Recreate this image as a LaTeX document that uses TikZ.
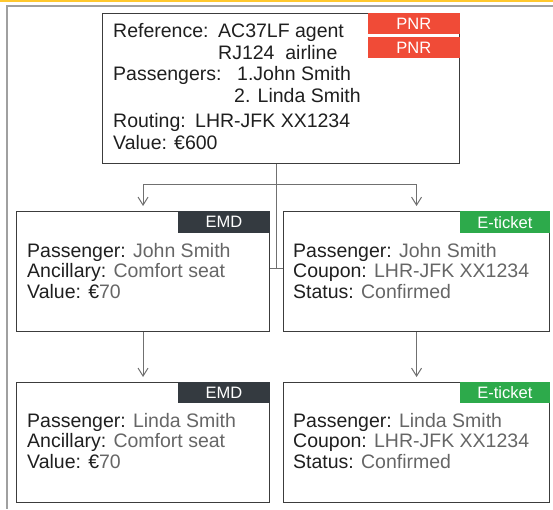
\documentclass[tikz,border=0pt]{standalone}
\usepackage{fontspec}
\setmainfont{Liberation Sans}
\usepackage{xcolor}
\usepackage{tikz}
\usetikzlibrary{arrows.meta,calc}
\definecolor{pnrred}{HTML}{F04B37}
\definecolor{emddark}{HTML}{343A40}
\definecolor{etkgreen}{HTML}{2DAA4B}
\definecolor{valgray}{HTML}{666666}
\definecolor{topbar}{HTML}{FFC82E}
\definecolor{framegray}{HTML}{A0A0A0}
\definecolor{cardline}{HTML}{3C3C3C}
\definecolor{linkgray}{HTML}{707070}
\tikzset{
  card/.style={draw=cardline,line width=1.1pt,anchor=north west,inner sep=0pt},
  tag/.style={anchor=north east,inner sep=0pt,minimum height=21pt,text=white,font=\fontsize{16.5}{17}\selectfont},
  txt/.style={anchor=base west,inner sep=0pt,font=\fontsize{19.5}{20}\selectfont,text=black!88},
  link/.style={draw=linkgray,line width=1pt},
  pointer/.style={-{Straight Barb[length=8pt,width=10pt]},shorten >=5pt}
}
\newcommand{\valtxt}[1]{\textcolor{valgray}{#1}}

\begin{document}
\begin{tikzpicture}[x=1pt,y=-1pt]
\useasboundingbox (0,0) rectangle (553,509);
% page frame
\fill[topbar] (0,0) rectangle (553,2.2);
\draw[framegray,line width=1.4pt] (553,6) -- (7,6) -- (7,509);

% PNR
\node[card,minimum width=357pt,minimum height=150pt] (pnr) at (102,13) {};
\node[tag,fill=pnrred,minimum width=92pt] (pnrA) at (pnr.north east) {PNR};
\node[tag,fill=pnrred,minimum width=92pt] (pnrB) at ($(pnr.north east)+(0,24)$) {PNR};
\node[txt] (pnr1) at (113,37) {\makebox[105pt][l]{Reference:}AC37LF agent};
\node[txt] (pnr2) at (113,59) {\hspace*{105pt}RJ124~~airline};
\node[txt] (pnr3) at (113,80) {\makebox[124pt][l]{Passengers:}1.John Smith};
\node[txt] (pnr4) at (113,102) {\hspace*{121pt}2. Linda Smith};
\node[txt] (pnr5) at (113,127) {\makebox[82pt][l]{Routing:}LHR-JFK XX1234};
\node[txt] (pnr6) at (113,149) {\makebox[61pt][l]{Value:}€600};

% first row
\node[card,minimum width=253pt,minimum height=120pt] (emdA) at (16,211) {};
\node[tag,fill=emddark,minimum width=92pt,minimum height=22pt] (emdAtag) at (emdA.north east) {EMD};
\node[txt] (emdA1) at ($(emdA.north west)+(11,46)$) {Passenger: \valtxt{John Smith}};
\node[txt] (emdA2) at ($(emdA.north west)+(11,66)$) {Ancillary: \valtxt{Comfort seat}};
\node[txt] (emdA3) at ($(emdA.north west)+(11,87)$) {Value: €\valtxt{70}};

\node[card,minimum width=266pt,minimum height=120pt] (etkA) at (283,211) {};
\node[tag,fill=etkgreen,minimum width=90pt,minimum height=22pt] (etkAtag) at (etkA.north east) {E-ticket};
\node[txt] (etkA1) at ($(etkA.north west)+(10,46)$) {Passenger: \valtxt{John Smith}};
\node[txt] (etkA2) at ($(etkA.north west)+(10,66)$) {Coupon: \valtxt{LHR-JFK XX1234}};
\node[txt] (etkA3) at ($(etkA.north west)+(10,87)$) {Status: \valtxt{Confirmed}};

% second row
\node[card,minimum width=253pt,minimum height=120pt] (emdB) at (16,382) {};
\node[tag,fill=emddark,minimum width=92pt] (emdBtag) at (emdB.north east) {EMD};
\node[txt] (emdB1) at ($(emdB.north west)+(11,45)$) {Passenger: \valtxt{Linda Smith}};
\node[txt] (emdB2) at ($(emdB.north west)+(11,65)$) {Ancillary: \valtxt{Comfort seat}};
\node[txt] (emdB3) at ($(emdB.north west)+(11,86)$) {Value: €\valtxt{70}};

\node[card,minimum width=266pt,minimum height=120pt] (etkB) at (283,382) {};
\node[tag,fill=etkgreen,minimum width=90pt] (etkBtag) at (etkB.north east) {E-ticket};
\node[txt] (etkB1) at ($(etkB.north west)+(10,45)$) {Passenger: \valtxt{Linda Smith}};
\node[txt] (etkB2) at ($(etkB.north west)+(10,65)$) {Coupon: \valtxt{LHR-JFK XX1234}};
\node[txt] (etkB3) at ($(etkB.north west)+(10,86)$) {Status: \valtxt{Confirmed}};

% connectors
\coordinate (bus) at (276,184);
\coordinate (join) at (276,268);
\draw[link] (pnr.south -| join) -- (join);
\draw[link] (emdA.east |- join) -- (etkA.west |- join);
\draw[link,pointer] (bus) -| (emdA.north);
\draw[link,pointer] (bus) -| (etkA.north);
\draw[link,pointer] (emdA.south) -- (emdB.north);
\draw[link,pointer] (etkA.south) -- (etkB.north);
\end{tikzpicture}
\end{document}
